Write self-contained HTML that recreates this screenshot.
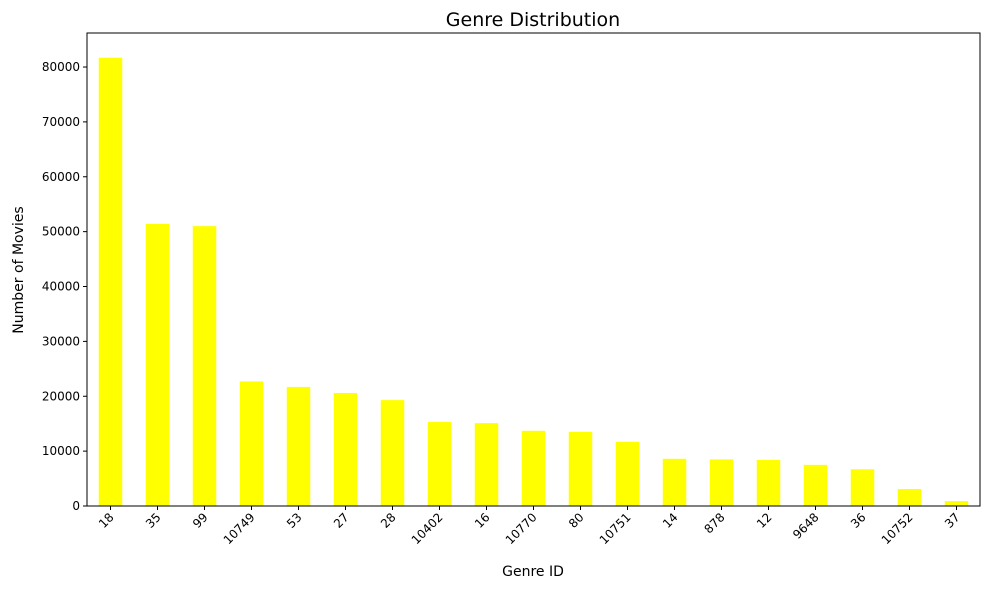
<!DOCTYPE html>
<html><head><meta charset="utf-8"><style>
body{margin:0;background:#fff;font-family:"Liberation Sans","DejaVu Sans",sans-serif;}
svg text{font-family:"DejaVu Sans","Liberation Sans",sans-serif;}
</style></head><body>
<svg id="chart" width="989" height="590" xmlns="http://www.w3.org/2000/svg">
<rect width="989" height="590" fill="#fff"/>
<text x="533" y="26" font-size="19" text-anchor="middle">Genre Distribution</text>
<text transform="translate(23,270) rotate(-90)" font-size="14" text-anchor="middle">Number of Movies</text>
<text x="533" y="576" font-size="14" text-anchor="middle">Genre ID</text>
<g id="bars"></g><g id="yticks"></g><g id="xticks"></g>
<rect x="87" y="33" width="893" height="473" fill="none" stroke="#000" stroke-width="1"/>
</svg>
<script>
const categories=["18","35","99","10749","53","27","28","10402","16","10770","80","10751","14","878","12","9648","36","10752","37"];
const counts=[81700,51400,51000,22700,21700,20600,19300,15300,15100,13700,13500,11700,8600,8500,8400,7500,6700,3100,900];
const yTicks=[0,10000,20000,30000,40000,50000,60000,70000,80000];
const L=87,R=980,T=33,B=506,yMax=86200;
const ns="http://www.w3.org/2000/svg";
const step=(R-L)/categories.length;
function xScale(i){return L+step*(i+0.5);}
function yScale(v){return B-(v/yMax)*(B-T);}
const bars=document.getElementById('bars'),yt=document.getElementById('yticks'),xt=document.getElementById('xticks');
counts.forEach((v,i)=>{
 const r=document.createElementNS(ns,'rect');
 
 
 r.setAttribute('x',xScale(i)-step/4);r.setAttribute('width',step/2);
 r.setAttribute('y',yScale(v));r.setAttribute('height',B-yScale(v));
 r.setAttribute('fill','#ffff00');bars.appendChild(r);
});
yTicks.forEach(t=>{
 const y=yScale(t);
 const l=document.createElementNS(ns,'line');
 
 
 l.setAttribute('x1',L-4);l.setAttribute('x2',L);l.setAttribute('y1',y);l.setAttribute('y2',y);l.setAttribute('stroke','#000');yt.appendChild(l);
 const tx=document.createElementNS(ns,'text');
 
 
 tx.setAttribute('x',L-7);tx.setAttribute('y',y+4);tx.setAttribute('font-size','12');tx.setAttribute('text-anchor','end');tx.textContent=t;yt.appendChild(tx);
});
categories.forEach((c,i)=>{
 const x=xScale(i);
 const l=document.createElementNS(ns,'line');
 
 
 l.setAttribute('x1',x);l.setAttribute('x2',x);l.setAttribute('y1',B);l.setAttribute('y2',B+4);l.setAttribute('stroke','#000');xt.appendChild(l);
 const tx=document.createElementNS(ns,'text');
 
 
 tx.setAttribute('transform','translate('+(x+4)+','+(B+12)+') rotate(-45)');
 tx.setAttribute('font-size','12');tx.setAttribute('text-anchor','end');tx.textContent=c;xt.appendChild(tx);
});
</script>
</body></html>
